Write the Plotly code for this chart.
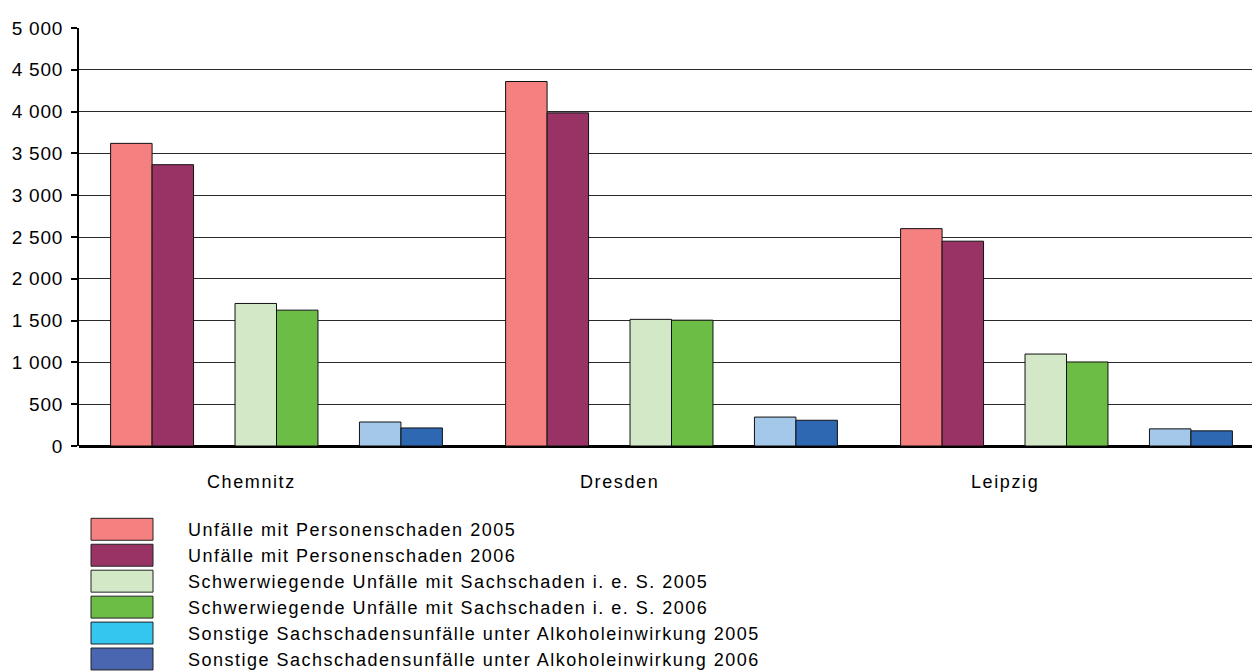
import plotly.graph_objects as go

cities = ["Chemnitz", "Dresden", "Leipzig"]
series_names = [
    "Unfälle mit Personenschaden 2005",
    "Unfälle mit Personenschaden 2006",
    "Schwerwiegende Unfälle mit Sachschaden i. e. S. 2005",
    "Schwerwiegende Unfälle mit Sachschaden i. e. S. 2006",
    "Sonstige Sachschadensunfälle unter Alkoholeinwirkung 2005",
    "Sonstige Sachschadensunfälle unter Alkoholeinwirkung 2006",
]
pers_2005 = [3620, 4360, 2600]
pers_2006 = [3365, 3985, 2450]
sach_2005 = [1705, 1515, 1100]
sach_2006 = [1625, 1505, 1005]
alk_2005 = [287, 346, 205]
alk_2006 = [216, 308, 181]
yticks = [0, 500, 1000, 1500, 2000, 2500, 3000, 3500, 4000, 4500, 5000]

values = [pers_2005, pers_2006, sach_2005, sach_2006, alk_2005, alk_2006]
bar_colors = ["#f48080", "#993366", "#d2e8c6", "#6cbd45", "#a3c8ea", "#2e67b2"]
legend_colors = ["#f48080", "#993366", "#d2e8c6", "#6cbd45", "#35c6f0", "#4a66b0"]
slots = [0, 1, 3, 4, 6, 7]

W, H = 1252, 671
L, R, T, B = 79, 0, 27.5, 224.5
FONT = "Liberation Sans, Arial, sans-serif"
slot_w = 0.105


def spaced(s, ls):
    return f'<span style="letter-spacing:{ls}px">{s}</span>'


def fmt(v):
    return f"{v:,}".replace(",", " ")


fig = go.Figure()
for i, (name, vals) in enumerate(zip(series_names, values)):
    fig.add_trace(go.Bar(
        x=cities, y=vals, name=name,
        marker=dict(color=bar_colors[i], line=dict(color="#111111", width=1)),
        width=slot_w, offset=-0.42 + slots[i] * slot_w,
        showlegend=False,
    ))

# custom legend (large swatches, as in the reference)
pw, ph = W - L - R, H - T - B


def xp(px):
    return (px - L) / pw


def yp(py):
    return (H - B - py) / ph


shapes, annots = [], []
for i, name in enumerate(series_names):
    cy = 530 + 26 * i
    shapes.append(dict(type="rect", xref="paper", yref="paper",
                       x0=xp(91), x1=xp(153), y0=yp(cy + 11), y1=yp(cy - 11),
                       fillcolor=legend_colors[i], line=dict(color="#222222", width=1)))
    annots.append(dict(xref="paper", yref="paper", x=xp(186), y=yp(cy + 1),
                       text=spaced(name, 1.5), showarrow=False, xanchor="left", yanchor="middle",
                       font=dict(family=FONT, size=18, color="#000")))

label_shift = [-25, -52, -62]
for c, s in zip(cities, label_shift):
    annots.append(dict(x=c, y=0, xref="x", yref="y", text=spaced(c, 1.6), showarrow=False,
                       xshift=s, yshift=-36, yanchor="middle",
                       font=dict(family=FONT, size=18, color="#000")))

fig.update_layout(
    width=W, height=H,
    margin=dict(l=L, r=R, t=T, b=B, pad=0),
    paper_bgcolor="white", plot_bgcolor="white",
    barmode="overlay",
    font=dict(family=FONT, size=18, color="#000"),
    shapes=shapes, annotations=annots,
    showlegend=False,
)
fig.update_xaxes(showticklabels=False, showgrid=False, zeroline=False,
                 showline=False, ticks="", range=[-0.5, -0.5 + pw / 395])
fig.update_yaxes(range=[0, 5000], tickvals=yticks,
                 ticktext=[spaced(fmt(v), 0.8) for v in yticks],
                 showgrid=True, gridcolor="#2a2a2a", gridwidth=1,
                 zeroline=True, zerolinecolor="#000", zerolinewidth=3,
                 showline=True, linecolor="#000", linewidth=2,
                 ticks="outside", ticklen=6, tickcolor="#000", tickwidth=1.5,
                 ticklabelstandoff=4,
                 tickfont=dict(family=FONT, size=19, color="#000"))

fig.write_html("out.html", config={"displayModeBar": False},
               post_script="document.body.style.margin='0';")
